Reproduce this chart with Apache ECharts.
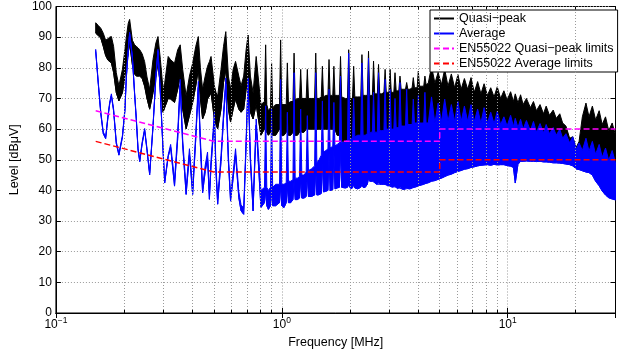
<!DOCTYPE html>
<html>
<head>
<meta charset="utf-8">
<script src="https://cdn.jsdelivr.net/npm/echarts@6/dist/echarts.min.js"></script>
<style>
  html, body { margin: 0; padding: 0; background: #fff; }
  #chart { width: 620px; height: 354px; }
</style>
</head>
<body>
<div id="chart"></div>
<script>
// Conducted emission scan, 150 kHz - 30 MHz.
// Each detector trace is stored as a lower and an upper edge per frequency
// (the trace swings quickly between them, so the space between is filled).

const freqMHz = [
  // 0.15 - 0.32 MHz
  0.150, 0.154, 0.158, 0.162, 0.166, 0.170, 0.173, 0.176, 0.180, 0.185, 0.190, 0.197, 0.202, 0.205, 0.209, 0.212,
  0.218, 0.223, 0.227, 0.231, 0.235, 0.241, 0.247, 0.253, 0.260, 0.269, 0.277, 0.283, 0.290, 0.298, 0.303, 0.314, 0.322,
  // 0.33 - 0.75 MHz
  0.335, 0.346, 0.355, 0.364, 0.377, 0.390, 0.403, 0.416, 0.427, 0.436, 0.446, 0.458, 0.469, 0.478, 0.486, 0.503,
  0.511, 0.520, 0.538, 0.552, 0.565, 0.580, 0.593, 0.609, 0.624, 0.645, 0.660, 0.678, 0.695, 0.709, 0.726, 0.746,
  // 0.77 - 1.84 MHz
  0.770, 0.808, 0.838, 0.848, 0.858, 0.872, 0.891, 0.901, 0.911, 0.939,
  0.977, 0.988, 0.999, 1.023, 1.046, 1.058, 1.070, 1.095, 1.120, 1.133,
  1.146, 1.172, 1.198, 1.212, 1.226, 1.254, 1.282, 1.297, 1.312, 1.351,
  1.397, 1.413, 1.429, 1.462, 1.495, 1.512, 1.529, 1.565, 1.600, 1.618,
  1.636, 1.652, 1.681, 1.700, 1.719, 1.758, 1.798, 1.819, 1.840,
  // 1.9 - 4.4 MHz
  1.910, 1.953, 1.977, 2.001, 2.025, 2.055, 2.080, 2.105, 2.167, 2.236,
  2.263, 2.290, 2.340, 2.391, 2.420, 2.449, 2.479, 2.517, 2.547, 2.577,
  2.617, 2.648, 2.680, 2.712, 2.772, 2.832, 2.866, 2.900, 2.937, 2.979,
  3.015, 3.051, 3.098, 3.132, 3.170, 3.208, 3.250, 3.295, 3.335, 3.375,
  3.454, 3.528, 3.570, 3.613, 3.693, 3.774, 3.820, 3.866, 3.925, 3.972,
  4.020, 4.068, 4.160, 4.249, 4.300, 4.352,
  // 4.45 - 30 MHz
  4.45, 4.60, 4.76, 4.92, 5.09, 5.26, 5.44, 5.63, 5.82, 6.02, 6.22, 6.43, 6.65, 6.88, 7.11, 7.36, 7.61, 7.86, 8.13,
  8.41, 8.70, 8.99, 9.30, 9.62, 9.94, 10.3, 10.6, 10.8, 11.1, 11.4, 11.7, 12.1, 12.6, 13.0, 13.4, 13.9, 14.4, 14.8,
  15.3, 15.9, 16.4, 17.0, 17.5, 18.1, 18.8, 19.4, 20.1, 20.7, 21.4, 22.2, 22.9, 23.7, 24.5, 25.4, 26.2, 27.1, 28.0,
  29.0, 30.0
];

const qpLow = [
  91.3, 90.5, 89.7, 87.0, 84.0, 82.5, 82.0, 81.6, 78.5, 71.9, 69.2, 71.9, 77.3, 81.0, 84.8, 88.1,
  81.0, 78.0, 77.3, 77.3, 77.3, 76.5, 74.0, 70.0, 66.5, 71.9, 77.3, 81.6, 74.1, 65.5, 67.0, 70.0, 69.8,
  68.7, 73.0, 77.3, 66.5, 60.1, 64.4, 68.7, 74.1, 79.5, 70.0, 63.3, 65.5, 69.8, 70.8, 71.9, 63.3,
  61.5, 60.1, 66.5, 75.2, 79.5, 66.5, 62.3, 66.5, 69.8, 66.5, 65.5, 66.5, 73.0, 77.3, 65.5, 63.3,
  68.0, 58.0, 60.0, 70.0, 59.0, 58.0, 59.0, 66.0, 58.0, 58.0,
  60.0, 72.0, 58.0, 58.0, 59.0, 68.0, 58.0, 58.0, 59.0, 70.0,
  58.0, 58.0, 59.0, 66.0, 59.0, 59.0, 60.0, 66.0, 60.0, 60.0,
  60.0, 70.0, 60.0, 60.0, 60.0, 68.0, 60.0, 60.0, 60.0, 66.0,
  60.0, 60.0, 60.0, 66.0, 60.0, 58.0, 58.0, 62.0, 57.0,
  54.0, 55.0, 60.0, 55.0, 54.0, 55.0, 58.0, 55.0, 55.0, 55.0,
  60.0, 55.0, 55.0, 56.0, 60.0, 56.0, 56.0, 56.0, 58.0, 56.0,
  56.0, 56.0, 58.0, 56.0, 56.0, 57.0, 58.0, 57.0, 57.0, 57.0,
  58.0, 57.0, 57.0, 57.0, 58.0, 57.0, 57.0, 57.0, 58.0, 57.5,
  58.0, 58.0, 59.0, 58.0, 58.0, 58.5, 59.0, 58.5, 59.0, 59.0,
  59.0, 59.0, 59.0, 59.0, 59.0, 59.0,
  57, 57, 57, 57.5, 57.5, 57.5, 57.5, 57.5, 57.5, 57.5, 57.5, 57.5, 57.5, 57.5, 57.5, 57.5, 57.5, 57, 57,
  57, 57, 56.5, 56.5, 56, 56, 56, 55.5, 55.5, 55.5, 55, 55, 55, 54.5, 54.5, 54, 54, 54, 53.5,
  53.5, 53, 53, 52.5, 52, 51.5, 51, 50, 49, 49, 48.5, 48.5, 48, 47.5, 47, 46.5, 46, 45.5, 45,
  44.5, 44
];

const qpHigh = [
  94.7, 93.8, 92.9, 91.3, 89.0, 89.5, 90.0, 90.2, 87.0, 78.4, 74.1, 79.5, 85.9, 90.0, 94.5, 95.8,
  89.0, 87.5, 87.0, 86.5, 85.9, 84.5, 82.0, 77.0, 73.0, 82.7, 88.1, 90.2, 82.7, 73.0, 75.0, 83.7, 82.6,
  81.5, 85.9, 87.5, 79.5, 70.8, 77.3, 81.5, 87.0, 90.2, 80.0, 73.0, 77.3, 80.5, 82.0, 83.7, 74.1,
  72.0, 70.8, 79.5, 87.0, 91.8, 77.3, 73.0, 79.5, 82.1, 77.3, 74.1, 77.3, 85.9, 90.7, 77.3, 71.9,
  83.7, 68.0, 69.0, 87.5, 68.0, 66.0, 67.0, 81.6, 67.0, 68.0,
  68.0, 89.1, 68.0, 68.0, 68.0, 81.6, 68.5, 69.0, 69.0, 84.8,
  69.5, 70.0, 70.0, 79.5, 70.0, 70.0, 70.0, 79.5, 70.0, 70.0,
  70.0, 84.8, 70.0, 70.0, 70.5, 80.5, 70.5, 71.0, 71.0, 82.7,
  71.0, 71.0, 71.0, 80.5, 71.0, 71.0, 71.0, 83.7, 70.5,
  70.0, 70.0, 85.9, 70.0, 70.0, 70.0, 80.5, 70.5, 70.5, 70.5,
  84.3, 71.0, 71.0, 71.0, 85.4, 71.0, 71.0, 71.0, 82.2, 71.5,
  71.5, 71.5, 81.1, 71.5, 71.5, 72.0, 79.5, 72.0, 72.0, 72.0,
  79.5, 72.0, 72.0, 72.0, 78.4, 72.5, 72.5, 72.5, 77.3, 73.0,
  73.0, 73.0, 75.2, 73.0, 73.0, 73.5, 76.8, 73.5, 73.5, 73.5,
  78.9, 74.0, 74.0, 74.0, 77.3, 74.5,
  75, 80.5, 75, 78.5, 74.5, 79.5, 74, 78, 73.5, 77.8, 73, 76.5, 73, 76.8, 72, 75.5, 71.5, 74.8, 71,
  73.5, 70.5, 73.8, 70, 72.5, 69.5, 72.2, 69, 71.5, 68.5, 71.2, 68, 70, 67, 69, 66, 68, 65, 67.5,
  64.5, 66.2, 63.5, 65, 62, 61, 57, 57.5, 54, 56, 64, 68.5, 64, 67.5, 63, 66, 61.5, 64, 59.5,
  62, 58
];

const avgLow = [
  85.4, 74.7, 65.0, 58.5, 56.9, 63.9, 68.2, 70.9, 66.0, 55.3, 51.5, 57.4, 66.0, 76.8, 85.4, 91.0,
  83.2, 71.4, 62.8, 53.1, 49.4, 55.3, 59.6, 53.1, 45.1, 60.7, 76.8, 85.4, 71.4, 53.1, 42.4, 51.0, 54.0,
  41.4, 56.9, 74.2, 54.8, 38.7, 51.6, 38.7, 56.9, 73.6, 54.8, 39.2, 46.2, 50.5, 37.1, 48.0, 63.4,
  46.2, 35.5, 49.4, 63.4, 74.7, 49.4, 36.5, 44.0, 51.6, 37.6, 33.3, 32.2, 54.8, 74.7, 49.4, 33.3,
  61.3, 34.4, 36.0, 40.0, 35.0, 33.8, 35.0, 40.0, 35.0, 35.0,
  36.0, 42.0, 35.0, 34.4, 36.0, 42.0, 36.0, 36.0, 37.0, 43.0,
  37.0, 37.0, 37.5, 44.0, 37.5, 37.5, 38.0, 45.0, 38.0, 38.0,
  38.5, 47.0, 38.5, 38.6, 39.0, 50.0, 39.5, 39.7, 40.0, 52.0,
  40.0, 40.0, 40.3, 53.0, 40.5, 40.8, 41.0, 54.0, 41.0,
  40.8, 41.0, 42.0, 41.0, 40.5, 40.8, 42.0, 40.8, 40.5, 41.0,
  42.0, 41.0, 41.0, 42.0, 44.0, 43.0, 43.0, 43.0, 43.0, 42.5,
  42.0, 42.0, 42.5, 42.0, 42.0, 42.0, 42.0, 41.8, 41.5, 41.5,
  41.5, 41.2, 41.0, 41.2, 41.5, 41.0, 40.5, 40.8, 41.0, 40.6,
  40.3, 40.5, 40.8, 40.6, 40.5, 40.8, 41.0, 41.0, 41.2, 41.3,
  41.5, 41.6, 41.8, 42.0, 42.2, 42.3,
  42.5, 43.0, 43.2, 43.6, 44.0, 44.5, 45.0, 45.3, 45.8, 46.2, 46.5, 46.9, 47.1, 47.5, 47.7, 48.0, 48.2, 48.3, 48.4,
  48.2, 48.5, 48.3, 48.4, 48.4, 48.1, 47.9, 47.5, 42.4, 48.5, 49.5, 49.5, 49.6, 49.5, 49.5, 49.4, 49.5, 49.3, 49.3,
  49.2, 49.0, 49.0, 48.9, 48.8, 48.6, 48.4, 48.0, 47.0, 46.8, 46.4, 46.0, 45.8, 45.0, 43.0, 41.5, 39.8, 38.5, 37.6,
  37.2, 36.9
];

const avgHigh = [
  86.0, 75.3, 65.6, 59.1, 57.5, 64.5, 68.8, 71.5, 66.6, 55.9, 52.1, 58.0, 66.6, 77.4, 86.0, 91.6,
  83.8, 72.0, 63.4, 53.7, 50.0, 55.9, 60.2, 53.7, 45.7, 61.3, 77.4, 86.0, 72.0, 53.7, 43.0, 51.6, 55.0,
  43.4, 58.9, 76.2, 56.8, 40.7, 53.6, 40.7, 58.9, 75.6, 56.8, 41.2, 48.2, 52.5, 39.1, 50.0, 65.4,
  48.2, 37.5, 51.4, 65.4, 76.7, 51.4, 38.5, 46.0, 53.6, 39.6, 35.3, 34.2, 56.8, 76.7, 51.4, 35.3,
  63.3, 40.0, 41.0, 67.6, 41.0, 40.0, 41.0, 66.5, 41.0, 42.0,
  42.0, 76.2, 42.0, 42.0, 42.5, 65.5, 43.0, 43.0, 43.5, 78.4,
  44.0, 44.0, 44.5, 66.5, 45.0, 45.0, 46.0, 64.4, 46.5, 47.0,
  48.0, 78.4, 49.0, 50.0, 51.5, 69.2, 52.5, 53.0, 53.5, 73.0,
  54.0, 54.0, 54.5, 68.7, 54.5, 55.0, 55.5, 77.3, 55.5,
  56.0, 56.5, 84.8, 56.5, 57.0, 57.0, 70.0, 57.5, 58.0, 58.0,
  81.6, 58.0, 58.0, 58.5, 83.2, 58.5, 59.0, 59.0, 72.0, 59.0,
  59.0, 59.0, 78.4, 59.5, 59.5, 59.5, 76.2, 60.0, 60.0, 60.0,
  73.0, 60.0, 60.0, 60.0, 70.0, 60.5, 60.5, 60.5, 75.2, 61.0,
  61.0, 61.0, 73.0, 61.5, 61.5, 61.5, 69.8, 62.0, 62.0, 62.0,
  71.0, 62.0, 62.0, 62.0, 72.0, 62.0,
  62, 70.5, 62, 68.5, 62.5, 69.8, 62.5, 68, 62.5, 69, 62.5, 67.5, 62.5, 68, 62.5, 66.5, 62, 67, 62,
  65.5, 61.8, 65.8, 61.5, 64, 61, 64.5, 60.8, 63.5, 60.5, 63.2, 60, 62.8, 59.5, 62.5, 59, 61.8, 58.8, 61.5,
  58.5, 60.5, 58, 60, 57, 58.5, 55.5, 57.5, 53.5, 55.5, 53, 57, 52.8, 56, 51.8, 55, 50.8, 53.8, 49.8,
  53, 49
];

// EN 55022 class B mains-port limits (straight on the log frequency axis between breakpoints)
const limitFreqMHz = [0.15, 0.5, 5, 5, 30];
const qpLimit = [66, 56, 56, 60, 60];
const avgLimit = [56, 46, 46, 50, 50];

// Decade subdivisions for the log-axis grid
const minorGridFreqMHz = [0.2, 0.3, 0.4, 0.5, 0.6, 0.7, 0.8, 0.9, 2, 3, 4, 5, 6, 7, 8, 9, 20];

const seriesNames = ['Quasi−peak', 'Average', 'EN55022 Quasi−peak limits', 'EN55022 Average limits'];

[qpLow, qpHigh, avgLow, avgHigh].forEach((a, k) => {
  if (a.length !== freqMHz.length) throw new Error('trace array ' + k + ' has ' + a.length + ' values, expected ' + freqMHz.length);
});

const FONT = '"Liberation Sans", Arial, Helvetica, sans-serif';
const GRID_LINE = { color: '#9a9a9a', width: 1, type: [1, 2] };

const pairs = (xs, ys) => xs.map((x, i) => [x, ys[i]]);

function decadeLabel(v) {
  const e = Math.log10(v);
  const r = Math.round(e);
  if (Math.abs(e - r) > 1e-6) return '';
  return '{b|10}{e|' + (r < 0 ? '−' + (-r) : String(r)) + '}';
}

// A trace = its lower edge as a line plus a filled polygon up to the upper edge.
// Both parts share one z so the later trace paints over the earlier one.
function trace(name, color, lo, hi, z) {
  return [
    {
      name, type: 'line', z, data: pairs(freqMHz, lo),
      symbol: 'none', lineStyle: { color, width: 1 }, itemStyle: { color },
      emphasis: { disabled: true }, silent: true
    },
    {
      name, type: 'custom', z, coordinateSystem: 'cartesian2d', silent: true, clip: true,
      data: freqMHz.map((f, i) => [f, lo[i], hi[i]]),
      encode: { x: 0, y: [1, 2] },
      renderItem(params, api) {
        if (params.dataIndex !== 0) return null;
        const upper = freqMHz.map((f, i) => api.coord([f, hi[i]]));
        const lower = freqMHz.map((f, i) => api.coord([f, lo[i]])).reverse();
        return {
          type: 'polygon',
          shape: { points: upper.concat(lower) },
          style: { fill: color, stroke: color, lineWidth: 1, lineJoin: 'round' }
        };
      }
    }
  ];
}

function limitLine(name, color, values) {
  return {
    name, type: 'line', data: pairs(limitFreqMHz, values),
    symbol: 'none', lineStyle: { color, width: 1.5, type: [6, 3] }, itemStyle: { color },
    emphasis: { disabled: true }, silent: true, z: 6
  };
}

const chart = echarts.init(document.getElementById('chart'), null, { renderer: 'canvas' });

chart.setOption({
  animation: false,
  textStyle: { fontFamily: FONT },
  grid: { left: 52.5, right: 4.5, top: 6.5, bottom: 37.5, show: true, borderColor: '#000', borderWidth: 1 },
  legend: {
    data: seriesNames,
    orient: 'vertical', left: 430, top: 10,
    padding: [2, 4, 2, 3], itemGap: 2, itemWidth: 20, itemHeight: 13,
    backgroundColor: '#fff', borderColor: '#000', borderWidth: 1, borderRadius: 0,
    selectedMode: false,
    itemStyle: { opacity: 0 },
    textStyle: { fontFamily: FONT, fontSize: 12.5, color: '#000' }
  },
  xAxis: [
    {
      type: 'log', logBase: 10, min: 0.1, max: 30,
      name: 'Frequency [MHz]', nameLocation: 'middle', nameGap: 23,
      nameTextStyle: { fontFamily: FONT, fontSize: 12.5, color: '#000' },
      axisLine: { show: true, lineStyle: { color: '#000', width: 1 } },
      axisTick: { show: true, inside: true, length: 5, lineStyle: { color: '#000' } },
      axisLabel: {
        color: '#000', margin: 3, formatter: decadeLabel,
        rich: {
          b: { fontFamily: FONT, fontSize: 12, color: '#000', lineHeight: 15, verticalAlign: 'bottom' },
          e: { fontFamily: FONT, fontSize: 8.5, color: '#000', lineHeight: 15, verticalAlign: 'top' }
        }
      },
      splitLine: { show: true, lineStyle: GRID_LINE },
      minorTick: { show: false }, minorSplitLine: { show: false }
    },
    {
      type: 'log', logBase: 10, min: 0.1, max: 30, position: 'top',
      axisLine: { show: true, lineStyle: { color: '#000', width: 1 } },
      axisTick: { show: true, inside: true, length: 5, lineStyle: { color: '#000' } },
      axisLabel: { show: false }, splitLine: { show: false }
    }
  ],
  yAxis: [
    {
      type: 'value', min: 0, max: 100, interval: 10,
      name: 'Level [dBμV]', nameLocation: 'middle', nameGap: 31,
      nameTextStyle: { fontFamily: FONT, fontSize: 12.5, color: '#000' },
      axisLine: { show: true, lineStyle: { color: '#000', width: 1 } },
      axisTick: { show: true, inside: true, length: 5, lineStyle: { color: '#000' } },
      axisLabel: { color: '#000', fontSize: 12, fontFamily: FONT, margin: 4 },
      splitLine: { show: true, lineStyle: GRID_LINE }
    },
    {
      type: 'value', min: 0, max: 100, interval: 10, position: 'right',
      axisLine: { show: true, lineStyle: { color: '#000', width: 1 } },
      axisTick: { show: true, inside: true, length: 5, lineStyle: { color: '#000' } },
      axisLabel: { show: false }, splitLine: { show: false }
    }
  ],
  series: [
    {
      name: 'decade grid', type: 'line', data: [], silent: true, z: 1,
      markLine: {
        silent: true, symbol: ['none', 'none'], label: { show: false }, animation: false,
        lineStyle: GRID_LINE, emphasis: { disabled: true },
        data: minorGridFreqMHz.map(f => ({ xAxis: f }))
      }
    },
    ...trace(seriesNames[0], '#000000', qpLow, qpHigh, 2),
    ...trace(seriesNames[1], '#0000ff', avgLow, avgHigh, 4),
    limitLine(seriesNames[2], '#ff00ff', qpLimit),
    limitLine(seriesNames[3], '#ff0000', avgLimit),
    {
      name: 'decade ticks', type: 'line', data: [], silent: true, z: 7,
      markLine: {
        silent: true, symbol: ['none', 'none'], label: { show: false }, animation: false,
        lineStyle: { color: '#000', width: 1, type: 'solid' }, emphasis: { disabled: true },
        data: minorGridFreqMHz.flatMap(f => [
          [{ coord: [f, 0] }, { coord: [f, 1] }],
          [{ coord: [f, 99] }, { coord: [f, 100] }]
        ])
      }
    }
  ]
});
</script>
</body>
</html>
